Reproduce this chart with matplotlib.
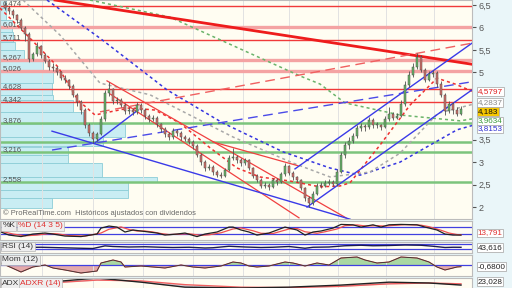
import numpy as np
import matplotlib.pyplot as plt
from matplotlib.transforms import blended_transform_factory

plt.rcParams['font.family'] = ['Liberation Sans', 'DejaVu Sans']

# ---- weekly candles ----
first_open = 6.50
closes = [6.43, 6.36, 6.27, 6.17, 5.99, 5.86, 5.30, 5.40, 5.58, 5.38,
          5.26, 5.13, 5.09, 5.00, 4.88, 4.82, 4.70, 4.50, 4.33, 4.16,
          3.83, 3.66, 3.52, 3.63, 3.96, 4.55, 4.62, 4.36, 4.38, 4.28,
          4.14, 4.16, 4.12, 4.28, 4.16, 4.03, 3.96, 3.99, 3.84, 3.74,
          3.63, 3.55, 3.70, 3.65, 3.56, 3.52, 3.45, 3.36, 3.17, 3.00,
          2.86, 2.90, 2.78, 2.72, 2.70, 2.83, 3.10, 3.12, 3.05, 2.98,
          3.05, 2.87, 2.70, 2.60, 2.47, 2.50, 2.45, 2.60, 2.56, 2.74,
          2.91, 2.76, 2.66, 2.60, 2.42, 2.20, 2.08, 2.30, 2.48, 2.47,
          2.54, 2.56, 2.51, 2.78, 3.15, 3.38, 3.47, 3.58, 3.76, 3.80,
          3.78, 3.94, 3.82, 3.82, 3.79, 3.95, 4.08, 3.99, 4.03, 4.30,
          4.72, 4.95, 5.12, 5.34, 5.05, 4.84, 4.96, 4.98, 4.75, 4.50,
          4.14, 4.30, 4.16, 4.08, 4.18]
highs = [6.56, 6.47, 6.40, 6.31, 6.22, 6.04, 5.90, 5.46, 5.68, 5.62,
         5.44, 5.30, 5.20, 5.14, 5.04, 4.95, 4.86, 4.74, 4.55, 4.38,
         4.20, 3.88, 3.70, 3.68, 4.02, 4.60, 4.78, 4.66, 4.46, 4.42,
         4.32, 4.22, 4.20, 4.34, 4.32, 4.20, 4.08, 4.06, 4.02, 3.88,
         3.78, 3.67, 3.76, 3.74, 3.69, 3.60, 3.56, 3.49, 3.40, 3.21,
         3.04, 2.96, 2.94, 2.82, 2.78, 2.88, 3.16, 3.32, 3.16, 3.09,
         3.10, 3.08, 2.90, 2.74, 2.64, 2.56, 2.54, 2.65, 2.64, 2.79,
         2.98, 2.94, 2.80, 2.70, 2.63, 2.45, 2.24, 2.35, 2.53, 2.55,
         2.60, 2.62, 2.60, 2.84, 3.22, 3.45, 3.55, 3.65, 3.83, 3.88,
         3.86, 4.00, 3.98, 3.90, 3.86, 4.02, 4.22, 4.12, 4.10, 4.38,
         4.80, 5.02, 5.20, 5.43, 5.38, 5.10, 5.04, 5.06, 5.02, 4.80,
         4.54, 4.36, 4.34, 4.22, 4.26]
lows = [6.38, 6.30, 6.20, 6.10, 5.94, 5.70, 5.22, 5.25, 5.36, 5.33,
        5.20, 5.05, 5.02, 4.95, 4.82, 4.76, 4.64, 4.44, 4.26, 4.08,
        3.76, 3.58, 3.43, 3.47, 3.60, 3.92, 4.48, 4.30, 4.30, 4.22,
        4.08, 4.08, 4.05, 4.08, 4.10, 3.97, 3.90, 3.92, 3.78, 3.68,
        3.57, 3.49, 3.52, 3.59, 3.50, 3.46, 3.40, 3.30, 3.12, 2.94,
        2.80, 2.82, 2.72, 2.66, 2.64, 2.67, 2.80, 3.04, 2.99, 2.92,
        2.94, 2.82, 2.65, 2.55, 2.42, 2.43, 2.39, 2.42, 2.50, 2.53,
        2.70, 2.71, 2.61, 2.55, 2.37, 2.14, 2.00, 2.05, 2.27, 2.42,
        2.44, 2.50, 2.46, 2.48, 2.75, 3.10, 3.30, 3.42, 3.54, 3.70,
        3.70, 3.74, 3.76, 3.75, 3.72, 3.76, 3.92, 3.93, 3.96, 4.00,
        4.26, 4.68, 4.90, 5.08, 5.00, 4.78, 4.80, 4.90, 4.68, 4.44,
        4.06, 4.10, 4.08, 4.02, 4.04]

# ---- support / resistance levels ----
red_levels = [6.474, 5.711, 4.628, 4.342]
pink_levels = [6.012, 5.267, 5.026]
green_levels = [3.876, 3.455, 3.216, 2.558]
labelled_levels = [6.474, 6.012, 5.711, 5.267, 5.026, 4.628, 4.342, 3.876, 3.216, 2.558]

# ---- volume by price ----
vp_low = [6.43, 6.17, 5.90, 5.68, 5.50, 5.28, 5.01, 4.76, 4.50, 4.39, 4.12,
          3.87, 3.56, 3.36, 3.16, 2.98, 2.67, 2.56, 2.38, 2.20, 1.98]
vp_high = [6.61, 6.43, 6.17, 5.90, 5.68, 5.50, 5.28, 5.01, 4.76, 4.50, 4.39,
           4.12, 3.85, 3.56, 3.34, 3.16, 2.98, 2.67, 2.56, 2.38, 2.20]
vp_vol = [6, 6, 12, 13, 15, 24, 43, 53, 52, 53, 73,
          83, 125, 103, 68, 68, 102, 157, 128, 128, 52]

# ---- moving averages (candle index, price) ----
ma_red_x = [-1.25, 6.25, 13.25, 18.25, 22.5, 26.25, 31.25, 37.5, 43.75, 51.25, 58,
            63.75, 71.25, 78.75, 83.75, 86.25, 93.75, 101.25, 108, 112.5, 116.75]
ma_red_y = [6.43, 5.76, 5.12, 4.38, 4.05, 4.12, 4.21, 4.16, 3.87, 3.32, 2.87,
            2.67, 2.58, 2.45, 2.47, 2.54, 3.38, 4.27, 4.87, 4.74, 4.5797]
ma_gray_x = [4.5, 13.75, 23.75, 36.25, 57, 72, 81.25, 91.25, 98.75, 108.25, 116.75]
ma_gray_y = [6.61, 5.83, 4.76, 4.50, 3.56, 2.98, 2.67, 2.78, 3.20, 4.09, 4.2837]
ma_blue_x = [10.5, 23.75, 40.5, 54.5, 69.5, 81.25, 88.75, 98.75, 113, 116.75]
ma_blue_y = [6.61, 5.76, 4.61, 3.87, 3.23, 2.87, 2.71, 3.00, 3.72, 3.8153]
ma_green_x = [21.25, 41.25, 73.75, 78.75, 85, 98.75, 113.75, 116.75]
ma_green_y = [6.61, 6.23, 4.92, 4.74, 4.32, 4.05, 3.92, 3.9634]

# ---- trend lines: (x0, y0, x1, y1) ----
red_solid = [(25.5, 4.81, 85.25, 1.76), (26.25, 4.52, 73.5, 1.76), (52, 3.45, 73.25, 2.92)]
red_thick = [(12.5, 6.61, 116.75, 5.18)]
red_dashed = [(23.75, 4.12, 116.75, 5.65)]
blue_solid = [(11.75, 3.69, 86.25, 1.73), (22.5, 3.43, 33.25, 4.16),
              (72.5, 2.85, 116.75, 5.65), (75.5, 2.00, 116.75, 4.61)]
blue_dashed = [(11.75, 3.27, 116.75, 4.79)]

# ---- indicators ----
k_x = [-1, 1, 4, 7, 10, 12, 15, 19, 23, 24, 26, 28, 30, 32, 34, 36, 38, 40, 43, 45,
       48, 50, 53, 56, 57, 59, 61, 63, 66, 70, 71, 73, 75, 77, 79, 82, 84, 87, 89, 92,
       94, 96, 99, 103, 105, 108, 110, 112, 114]
k_y = [38, 14, 2, 22, 30, 22, 6, 2, 22, 69, 85, 77, 38, 54, 46, 38, 30, 14, 22, 30,
       2, 22, 38, 77, 77, 54, 38, 14, 30, 77, 69, 54, 14, 38, 46, 69, 98, 95, 77, 95,
       77, 95, 98, 95, 77, 54, 22, 14, 13.791]
d_x = [-1, 2, 5, 8, 11, 13, 16, 20, 24, 26, 29, 31, 33, 35, 37, 39, 41, 44, 46, 49,
       51, 54, 57, 59, 62, 64, 67, 71, 73, 75, 78, 80, 83, 85, 88, 90, 93, 95, 97, 100,
       104, 106, 109, 111, 113, 114]
d_y = [45, 22, 8, 14, 26, 24, 10, 6, 30, 60, 78, 58, 46, 46, 38, 26, 18, 22, 24, 12,
       16, 32, 62, 70, 48, 28, 26, 62, 66, 40, 28, 40, 62, 88, 94, 86, 88, 85, 90, 96,
       92, 80, 52, 30, 18, 16]
rsi_x = [-1, 4, 9, 14, 19, 22, 25, 27, 31, 35, 39, 42, 46, 50, 52, 56, 60, 64, 67, 71,
         75, 77, 81, 85, 89, 92, 96, 100, 104, 107, 110, 112, 114]
rsi_y = [44, 42, 44, 40, 36, 34, 55, 50, 46, 48, 44, 42, 44, 38, 40, 52, 46, 42, 44, 50,
         36, 44, 46, 56, 60, 56, 58, 62, 60, 52, 42, 44, 43.616]
mom_x = [-1, 4, 7, 10, 12, 15, 19, 23, 24, 26, 27, 29, 30, 34, 37, 40, 44, 47, 50, 54,
         57, 59, 61, 63, 66, 70, 72, 75, 78, 81, 84, 88, 90, 93, 96, 99, 103, 106, 108, 110,
         113, 114]
mom_y = [0.8, -2.8, -0.8, 0, -1.2, -2.0, -3.2, -2.4, 0.8, 1.6, 2.0, 1.2, -0.8, -0.4, -0.8,
         -1.2, 0, -0.8, -1.2, -0.4, 1.2, 0.8, -0.4, -0.8, -0.4, 1.2, 0.8, -0.4, 0.8, 0,
         2.8, 3.2, 2.0, 0.8, 1.2, 3.2, 2.8, 1.2, -0.8, -2.0, -0.8, -0.68]
adx_x = [-1, 11, 23, 34, 45, 59, 71, 84, 96, 106, 114]
adx_y = [23, 30, 40, 30, 18, 16, 18, 23, 30, 28, 23.028]
adxr_y = [26, 28, 35, 33, 24, 18, 17, 20, 26, 28, 26]

grid_x = [9.25, 22, 34.5, 47, 59.5, 71, 83.25, 95.25, 107.25]

W, H = 512, 288
BG = '#fffdf2'
BLUE = '#4040e0'


def box(top, bottom, right=472):
    return [0, 1 - bottom / H, right / W, (bottom - top) / H]


def comma(v, nd):
    return f"{v:.{nd}f}".replace('.', ',')


def style(ax):
    ax.set_facecolor(BG)
    ax.set_xlim(-1.25, 116.75)
    ax.set_xticks(grid_x)
    ax.tick_params(axis='x', length=0, labelbottom=False)
    ax.grid(axis='x', color='#e2e2e2', lw=0.7)
    ax.set_yticks([])
    for s in ax.spines.values():
        s.set_color('#bcbcbc')
        s.set_linewidth(0.8)


def tag(ax, x, text, color='#333333'):
    ax.text(x, 0.93, text, transform=ax.transAxes, va='top', ha='left', fontsize=6,
            color=color, zorder=20,
            bbox=dict(boxstyle='square,pad=0.15', fc='#eeeeee', ec='#b5b5b5', lw=0.5))


def right_label(ax, y, text, color='#222222', fc='white', dy=0):
    tr = blended_transform_factory(ax.transAxes, ax.transData)
    ax.annotate(text, xy=(1, y), xycoords=tr, xytext=(4, dy), textcoords='offset points',
                ha='left', va='center', fontsize=5.9, color=color, annotation_clip=False,
                zorder=30, bbox=dict(boxstyle='square,pad=0.1', fc=fc, ec='#b0b0b0', lw=0.6))


fig = plt.figure(figsize=(W / 100, H / 100), dpi=100)
fig.patch.set_facecolor('#eaf6f9')

# ---------------- main price panel ----------------
ax = fig.add_axes(box(0, 219))
style(ax)
ax.set_ylim(1.734, 6.611)

vp_scale = 0.25
for lo, hi, v in zip(vp_low, vp_high, vp_vol):
    ax.barh((lo + hi) / 2, v * vp_scale, height=hi - lo, left=-1.25, color='#c9edf3',
            edgecolor='#8ccdd7', linewidth=0.6, zorder=1)

for lv in red_levels:
    ax.axhline(lv, color='#f03a3a', lw=1.0, zorder=2)
for lv in pink_levels:
    ax.axhline(lv, color='#f4a3a3', lw=2.4, zorder=2)
for lv in green_levels:
    ax.axhline(lv, color='#7cc47c', lw=1.8, zorder=2)
for lv in labelled_levels:
    ax.text(-0.6, lv + 0.06, comma(lv, 3), fontsize=5.5, color='#555555', va='center',
            ha='left', zorder=3)

dots = (0, (2, 2))
ax.plot(ma_blue_x, ma_blue_y, color='#3535e0', lw=1.1, ls=dots, zorder=3)
ax.plot(ma_gray_x, ma_gray_y, color='#a8a8a8', lw=1.1, ls=dots, zorder=3)
ax.plot(ma_green_x, ma_green_y, color='#6ab36a', lw=1.1, ls=dots, zorder=3)
ax.plot(ma_red_x, ma_red_y, color='#ee3030', lw=1.1, ls=dots, zorder=3)

for x0, y0, x1, y1 in red_solid:
    ax.plot([x0, x1], [y0, y1], color='#f04040', lw=0.9, zorder=4)
for x0, y0, x1, y1 in red_thick:
    ax.plot([x0, x1], [y0, y1], color='#ee1c1c', lw=2.0, zorder=4)
for x0, y0, x1, y1 in red_dashed:
    ax.plot([x0, x1], [y0, y1], color='#f06060', lw=1.0, ls=(0, (7, 4)), zorder=4)
for x0, y0, x1, y1 in blue_solid:
    ax.plot([x0, x1], [y0, y1], color='#3a3ae8', lw=1.0, zorder=4)
for x0, y0, x1, y1 in blue_dashed:
    ax.plot([x0, x1], [y0, y1], color='#4a4ae8', lw=1.0, ls=(0, (7, 4)), zorder=4)

c = np.array(closes)
o = np.array([first_open] + closes[:-1])
idx = np.arange(len(c))
up = c >= o
ax.vlines(idx, lows, highs, color='#505050', lw=0.6, zorder=5)
ax.bar(idx, np.maximum(np.abs(c - o), 0.02), bottom=np.minimum(o, c), width=0.62,
       color=np.where(up, '#66b566', '#d27068'), edgecolor='#4a4a4a', linewidth=0.35, zorder=6)

ax.text(0.006, 0.028, '\u00a9 ProRealTime.com  Hist\u00f3ricos ajustados con dividendos',
        transform=ax.transAxes, fontsize=5.4, color='#666666', va='center', zorder=10)

ax.yaxis.tick_right()
ticks = [2, 2.5, 3, 3.5, 5, 5.5, 6, 6.5]
ax.set_yticks(ticks)
ax.set_yticklabels([comma(t, 1).replace(',0', '') for t in ticks])
ax.tick_params(axis='y', direction='out', length=3, pad=2, labelsize=6.5,
               colors='#555555')

right_label(ax, 4.5797, '4,5797', color='#e02020')
right_label(ax, 4.2837, '4,2837', color='#8a8a8a', dy=1.5)
right_label(ax, closes[-1], '4,183', color='#111111', fc='#f6c700', dy=-1.5)
right_label(ax, 3.9634, '3,9634', color='#3a9a3a', dy=-1.5)
right_label(ax, 3.8153, '3,8153', color='#2f2fd0', dy=-2.5)

# ---------------- stochastic ----------------
ax1 = fig.add_axes(box(221, 240))
style(ax1)
ax1.set_ylim(-25, 125)
ax1.axhline(80, color=BLUE, lw=0.9)
ax1.axhline(20, color=BLUE, lw=0.9)
ax1.plot(d_x, d_y, color='#f05050', lw=0.9)
ax1.plot(k_x, k_y, color='#222222', lw=0.9)
tag(ax1, 0.005, '%K')
tag(ax1, 0.038, '%D (14 3 5)', color='#e03030')
right_label(ax1, 13.791, '13,791', color='#e03030', dy=1.5)

# ---------------- RSI ----------------
ax2 = fig.add_axes(box(242, 253))
style(ax2)
ax2.set_ylim(-2, 86)
ax2.axhline(70, color=BLUE, lw=0.9)
ax2.axhline(30, color=BLUE, lw=0.9)
ax2.plot(rsi_x, rsi_y, color='#1a1a50', lw=1.0)
tag(ax2, 0.005, 'RSI (14)')
right_label(ax2, 43.616, '43,616')

# ---------------- momentum ----------------
ax3 = fig.add_axes(box(255, 276))
style(ax3)
ax3.set_ylim(-4.4, 4.0)
mx = np.array(mom_x, dtype=float)
my = np.array(mom_y)
ax3.fill_between(mx, my, 0, where=my >= 0, interpolate=True, color='#a9d8a2', lw=0)
ax3.fill_between(mx, my, 0, where=my < 0, interpolate=True, color='#e4aaaa', lw=0)
ax3.axhline(0, color=BLUE, lw=0.9)
ax3.plot(mx, my, color='#e86060', lw=0.8)
ax3.plot(mx, my, color='#333333', lw=0.6)
tag(ax3, 0.005, 'Mom (12)')
right_label(ax3, -0.68, '-0,6800')

# ---------------- ADX ----------------
ax4 = fig.add_axes(box(278, 300))
style(ax4)
ax4.set_ylim(-12.8, 40)
ax4.fill_between(adx_x, adx_y, adxr_y, color='#b4b4cc', alpha=0.6, lw=0)
ax4.plot(adx_x, adxr_y, color='#f06060', lw=1.0)
ax4.plot(adx_x, adx_y, color='#222222', lw=1.0)
tag(ax4, 0.005, 'ADX')
tag(ax4, 0.042, 'ADXR (14)', color='#e03030')
right_label(ax4, 23.028, '23,028', dy=2.5)

fig.savefig('out.png', dpi=100, facecolor=fig.get_facecolor())
